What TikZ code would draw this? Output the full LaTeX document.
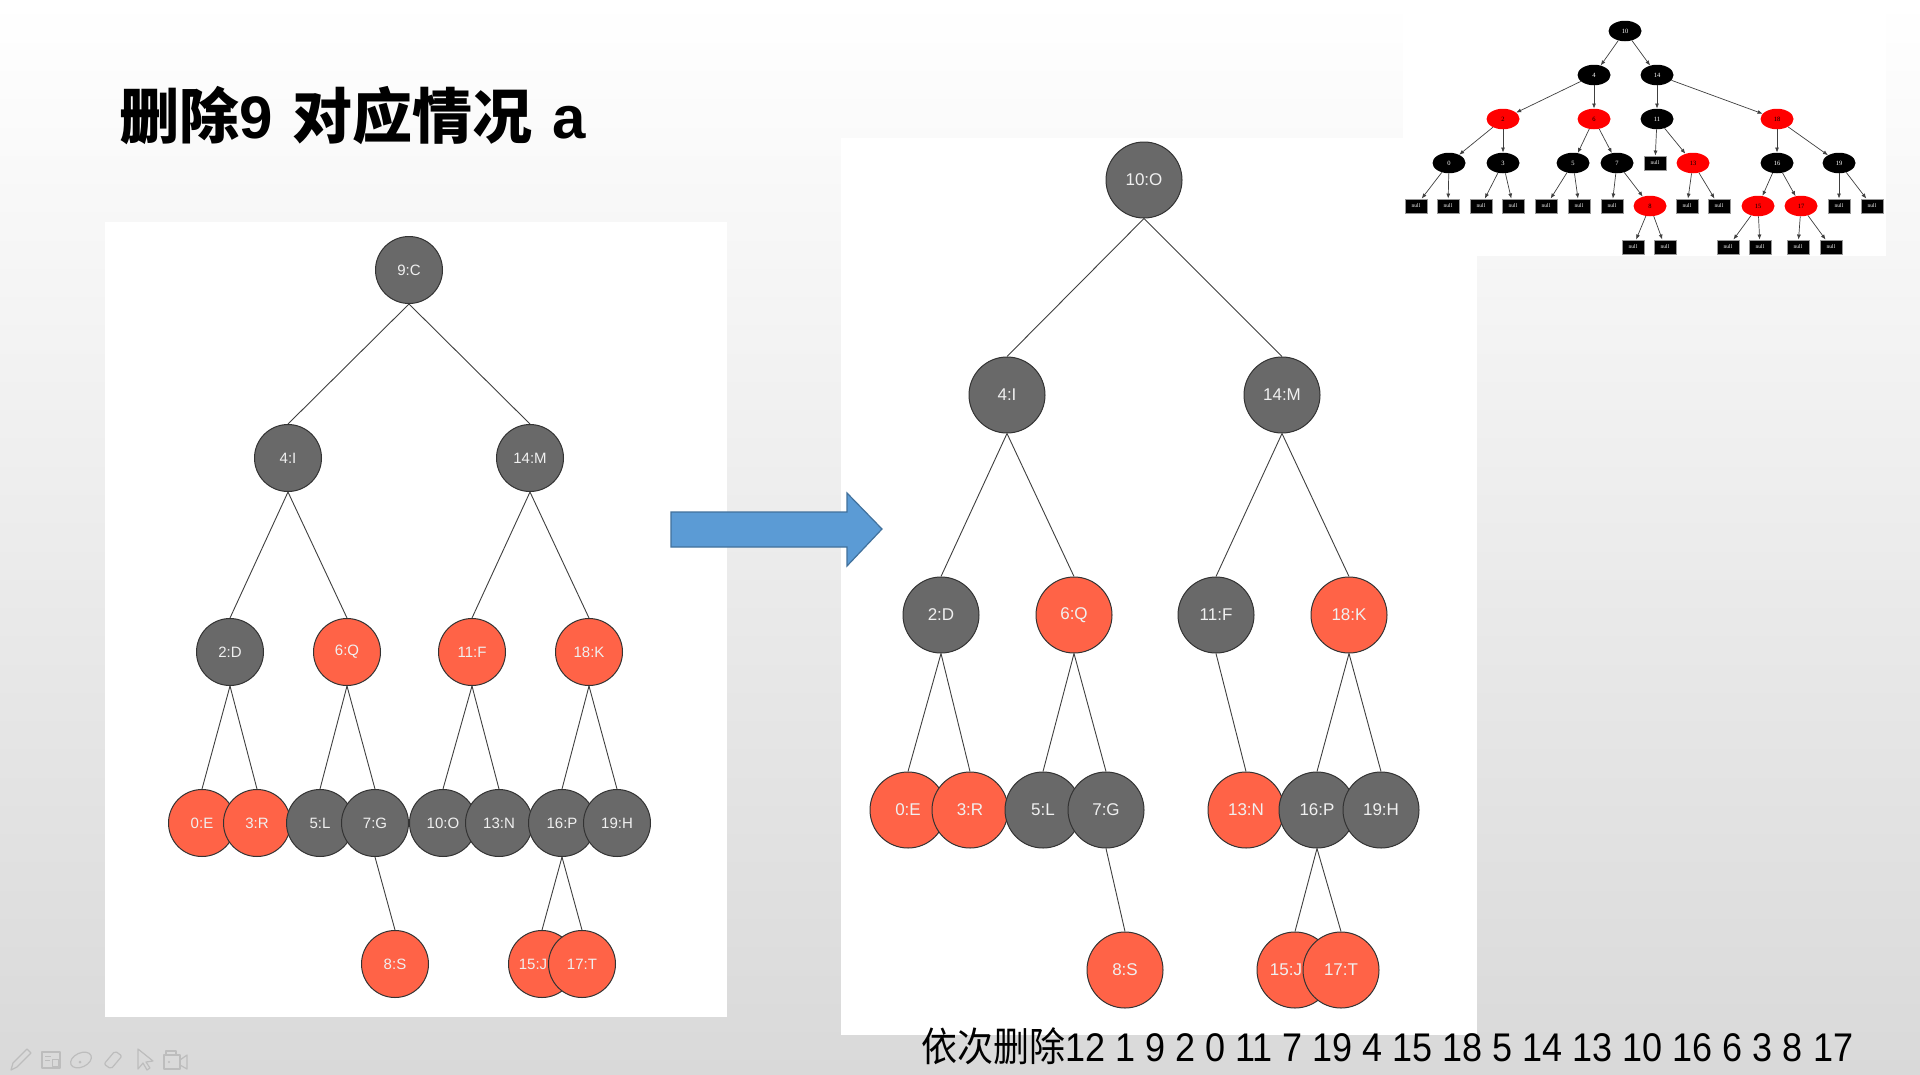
\documentclass[tikz,border=0pt]{standalone}
\usepackage{fontspec}
\setmainfont{Liberation Sans}
\newfontfamily\cjk{Noto Sans CJK SC}
\newfontfamily\tms{Liberation Serif}
\usetikzlibrary{arrows.meta,shapes.geometric,backgrounds}
\pgfdeclarelayer{bgzero}
\pgfsetlayers{bgzero,background,main}
\definecolor{ngray}{HTML}{696969}
\definecolor{nred}{HTML}{FF6347}
\definecolor{ablue}{HTML}{5B9BD5}
\definecolor{aborder}{HTML}{41719C}
\definecolor{bgmid}{HTML}{F1F1F1}
\definecolor{bgbot}{HTML}{D9D9D9}
\definecolor{iconc}{HTML}{BDBDBD}
\tikzset{
  lnode/.style={circle, draw=black!80, line width=1pt, inner sep=0pt, minimum size=67pt,
     text=white!94!black, font=\fontsize{15}{15}\selectfont},
  lb/.style={lnode, fill=ngray},
  lr/.style={lnode, fill=nred},
  rnode/.style={lnode, minimum size=76pt, font=\fontsize{17}{17}\selectfont},
  rb/.style={rnode, fill=ngray},
  rr/.style={rnode, fill=nred},
  tedge/.style={draw=black!75, line width=0.9pt},
  sbase/.style={ellipse, inner sep=0pt, minimum width=33pt, minimum height=20.5pt,
     font=\tms\fontsize{6.5}{6.5}\selectfont},
  sb/.style={sbase, fill=black, text=white},
  sr/.style={sbase, fill=red, text=black},
  nl/.style={rectangle, fill=black, draw=black!40, line width=0.4pt, inner sep=0pt,
     minimum width=22pt, minimum height=14.5pt, text=white, font=\tms\fontsize{5.5}{5.5}\selectfont},
  sedge/.style={draw=black!75, line width=0.7pt, -{Latex[length=5pt,width=4pt]}},
  icon/.style={draw=iconc, line width=1.2pt, line join=round},
}
\begin{document}
\begin{tikzpicture}[x=1pt,y=-1pt]
\useasboundingbox (0,0) rectangle (1920,1074);
\begin{pgfonlayer}{bgzero}
% background
\shade[top color=white, middle color=bgmid, bottom color=bgbot] (0,0) rectangle (1920,1074);
% panels
\fill[white] (105,222) rectangle (727,1017);
\fill[white] (841,138) rectangle (1477,1035);
\fill[white] (1403,0) rectangle (1886,256);
\end{pgfonlayer}

% title
\node[anchor=west, inner sep=0pt, font=\fontsize{60}{60}\selectfont] (title) at (119,116)
  {{\cjk\bfseries 删除}{\bfseries 9}\hspace{20pt}{\cjk\bfseries 对应情况}\hspace{20pt}{\bfseries a}};

% block arrow
\draw[fill=ablue, draw=aborder, line width=1.2pt, line join=miter]
  (671,512) -- (847,512) -- (847,493) -- (882,529) -- (847,566) -- (847,547) -- (671,547) -- cycle;

% ---------------- left tree ----------------
\node[lb] (La) at (409,270) {9:C};
\node[lb] (Lb) at (288,458) {4:I};
\node[lb] (Lc) at (530,458) {14:M};
\node[lb] (Ld) at (230,652) {2:D};
\node[lr] (Le) at (347,652) {6:Q};
\node[lr] (Lf) at (472,652) {11:F};
\node[lr] (Lg) at (589,652) {18:K};
\node[lr] (L0) at (202,823) {0:E};
\node[lr] (L3) at (257,823) {3:R};
\node[lb] (L5) at (320,823) {5:L};
\node[lb] (L7) at (375,823) {7:G};
\node[lb] (L10) at (443,823) {10:O};
\node[lb] (L13) at (499,823) {13:N};
\node[lb] (L16) at (562,823) {16:P};
\node[lb] (L19) at (617,823) {19:H};
\node[lr] (L8) at (395,964) {8:S};
\node[lr] (L15) at (542,964) {15:J\rule{18pt}{0pt}};
\node[lr] (L17) at (582,964) {17:T};
\begin{scope}[on background layer]
\foreach \p/\c in {La/Lb, La/Lc, Lb/Ld, Lb/Le, Lc/Lf, Lc/Lg, Ld/L0, Ld/L3, Le/L5, Le/L7,
                   Lf/L10, Lf/L13, Lg/L16, Lg/L19, L7/L8, L16/L15, L16/L17}
  \draw[tedge] (\p.south) -- (\c.north);
\end{scope}

% ---------------- right tree ----------------
\node[rb] (Ra) at (1144,180) {10:O};
\node[rb] (Rb) at (1007,395) {4:I};
\node[rb] (Rc) at (1282,395) {14:M};
\node[rb] (Rd) at (941,615) {2:D};
\node[rr] (Re) at (1074,615) {6:Q};
\node[rb] (Rf) at (1216,615) {11:F};
\node[rr] (Rg) at (1349,615) {18:K};
\node[rr] (R0) at (908,810) {0:E};
\node[rr] (R3) at (970,810) {3:R};
\node[rb] (R5) at (1043,810) {5:L};
\node[rb] (R7) at (1106,810) {7:G};
\node[rr] (R13) at (1246,810) {13:N};
\node[rb] (R16) at (1317,810) {16:P};
\node[rb] (R19) at (1381,810) {19:H};
\node[rr] (R8) at (1125,970) {8:S};
\node[rr] (R15) at (1295,970) {15:J\rule{18pt}{0pt}};
\node[rr] (R17) at (1341,970) {17:T};
\begin{scope}[on background layer]
\foreach \p/\c in {Ra/Rb, Ra/Rc, Rb/Rd, Rb/Re, Rc/Rf, Rc/Rg, Rd/R0, Rd/R3, Re/R5, Re/R7,
                   Rf/R13, Rg/R16, Rg/R19, R7/R8, R16/R15, R16/R17}
  \draw[tedge] (\p.south) -- (\c.north);
\end{scope}

% ---------------- small graph (top right) ----------------
\node[sb] (t10) at (1625,31) {10};
\node[sb] (t4) at (1594,75) {4};
\node[sb] (t14) at (1657,75) {14};
\node[sr] (t2) at (1503,119) {2};
\node[sr] (t6) at (1594,119) {6};
\node[sb] (t11) at (1657,119) {11};
\node[sr] (t18) at (1777,119) {18};
\node[sb] (t0) at (1449,163) {0};
\node[sb] (t3) at (1503,163) {3};
\node[sb] (t5) at (1573,163) {5};
\node[sb] (t7) at (1617,163) {7};
\node[nl] (n11) at (1655,163) {null};
\node[sr] (t13) at (1693,163) {13};
\node[sb] (t16) at (1777,163) {16};
\node[sb] (t19) at (1839,163) {19};
\node[nl] (n0a) at (1416,206) {null};
\node[nl] (n0b) at (1448,206) {null};
\node[nl] (n3a) at (1481,206) {null};
\node[nl] (n3b) at (1513,206) {null};
\node[nl] (n5a) at (1546,206) {null};
\node[nl] (n5b) at (1579,206) {null};
\node[nl] (n7a) at (1612,206) {null};
\node[sr] (t8) at (1650,206) {8};
\node[nl] (n13a) at (1687,206) {null};
\node[nl] (n13b) at (1719,206) {null};
\node[sr] (t15) at (1758,206) {15};
\node[sr] (t17) at (1801,206) {17};
\node[nl] (n19a) at (1839,206) {null};
\node[nl] (n19b) at (1872,206) {null};
\node[nl] (n8a) at (1633,247) {null};
\node[nl] (n8b) at (1665,247) {null};
\node[nl] (n15a) at (1728,247) {null};
\node[nl] (n15b) at (1760,247) {null};
\node[nl] (n17a) at (1798,247) {null};
\node[nl] (n17b) at (1831,247) {null};
\foreach \p/\c in {t10/t4, t10/t14, t4/t2, t4/t6, t14/t11, t14/t18, t2/t0, t2/t3, t6/t5, t6/t7,
                   t11/n11, t11/t13, t18/t16, t18/t19, t0/n0a, t0/n0b, t3/n3a, t3/n3b, t5/n5a, t5/n5b,
                   t7/n7a, t7/t8, t13/n13a, t13/n13b, t16/t15, t16/t17, t19/n19a, t19/n19b,
                   t8/n8a, t8/n8b, t15/n15a, t15/n15b, t17/n17a, t17/n17b}
  \draw[sedge] (\p) -- (\c);

% bottom sequence text
\node[anchor=west, inner sep=0pt] (seq) at (921,1046)
  {\scalebox{0.90}[1]{\fontsize{40}{40}\selectfont{\cjk 依次删除}12 1 9 2 0 11 7 19 4 15 18 5 14 13 10 16 6 3 8 17}};

% faint toolbar icons (bottom left)
\draw[icon] (11,1070) -- (13,1063) -- (27,1049) -- (31,1053) -- (17,1067) -- cycle;
\draw[icon] (42,1052) rectangle (60,1068);
\draw[icon, line width=0.8pt] (45,1056) -- (51,1056) (45,1060) -- (50,1060) (52,1059) rectangle (58,1066);
\draw[icon, rotate around={25:(81,1060)}] (81,1060) ellipse [x radius=11pt, y radius=7pt];
\fill[iconc] (80,1062) circle (1.5pt);
\draw[icon, rounded corners=2pt] (104,1064) -- (115,1051) -- (122,1056) -- (111,1069) -- cycle;
\draw[icon] (138,1049) -- (138,1069) -- (143,1063) -- (147,1070) -- (150,1068) -- (146,1062) -- (153,1061) -- cycle;
\draw[icon] (164,1055) rectangle (180,1069);
\draw[icon] (166,1051) rectangle (176,1055);
\draw[icon] (180,1060) -- (187,1055) -- (187,1069) -- (180,1065);
\fill[iconc] (169,1062) circle (1.2pt);
\end{tikzpicture}
\end{document}
